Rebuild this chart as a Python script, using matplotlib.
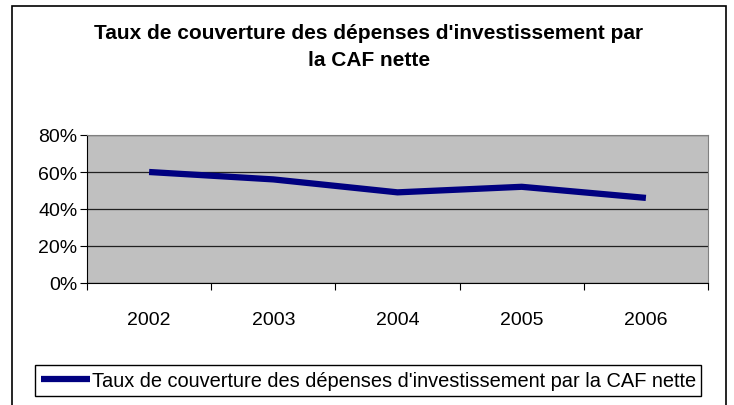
import matplotlib
matplotlib.use("Agg")
import matplotlib.pyplot as plt
from matplotlib.patches import Rectangle
from matplotlib.ticker import FixedLocator, FuncFormatter

plt.rcParams['font.family'] = ['Liberation Sans', 'DejaVu Sans']

# values
years = ['2002', '2003', '2004', '2005', '2006']
taux = [0.60, 0.56, 0.49, 0.52, 0.46]
label = "Taux de couverture des dépenses d'investissement par la CAF nette"
title = "Taux de couverture des dépenses d'investissement par\nla CAF nette"

fig = plt.figure(figsize=(7.34, 4.06), dpi=100)
W, H = 734, 406

# outer chart border
fig.patches.append(Rectangle((12 / W, -0.02), 714 / W, 1.02 - 7 / H,
                             transform=fig.transFigure, fill=False,
                             edgecolor='black', linewidth=1.2))

ax = fig.add_axes([87 / W, 1 - 284 / H, (708 - 87) / W, (284 - 136) / H])
ax.set_facecolor('#C0C0C0')

x = list(range(len(years)))
ln, = ax.plot(x, taux, color='#000080', linewidth=4.5, solid_capstyle='butt',
              label=label)

ax.set_xlim(-0.5, len(years) - 0.5)
ax.set_ylim(0, 0.8)
ax.yaxis.set_major_locator(FixedLocator([0, 0.2, 0.4, 0.6, 0.8]))
ax.yaxis.set_major_formatter(FuncFormatter(lambda v, p: f"{v * 100:.0f}%"))
ax.grid(axis='y', color='#202020', linewidth=0.9)
ax.set_axisbelow(True)

# category ticks sit between the categories, labels in the middle
ax.set_xticks([i - 0.5 for i in range(len(years) + 1)])
ax.set_xticklabels([])
ax.set_xticks(x, minor=True)
ax.set_xticklabels(years, minor=True, fontsize=14)
ax.tick_params(axis='x', which='minor', length=0, pad=20)
ax.tick_params(axis='x', which='major', length=5, direction='out', color='black')
ax.tick_params(axis='y', length=5, direction='out', labelsize=14, pad=2)

for side in ['left', 'bottom']:
    ax.spines[side].set_color('black')
for side in ['top', 'right']:
    ax.spines[side].set_color('#808080')

fig.text(369 / W, 1 - 47 / H, title, ha='center', va='center',
         fontsize=15, fontweight='bold', linespacing=1.5)

fig.legend(handles=[ln], loc='center left',
           bbox_to_anchor=(35 / W, 1 - 403 / H, 666 / W, 43 / H),
           mode='expand', fancybox=False, edgecolor='black', framealpha=1,
           fontsize=14.4, handlelength=2.45, handletextpad=0.1,
           borderaxespad=0, borderpad=0.3)

fig.savefig('out.png', dpi=100)
